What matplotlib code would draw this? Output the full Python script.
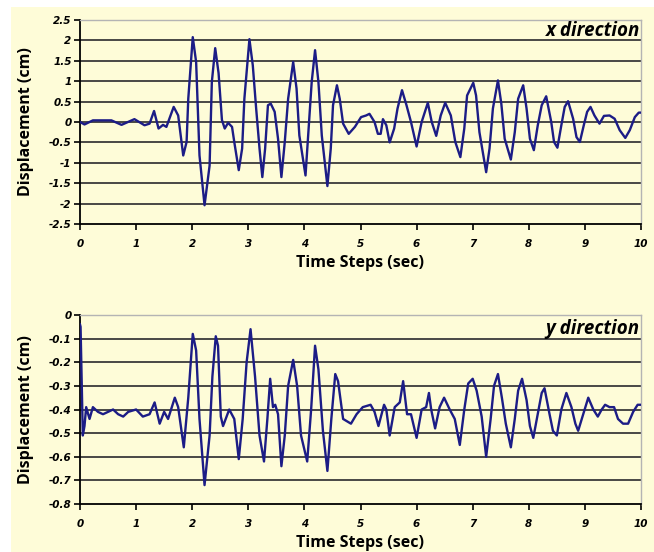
import matplotlib
matplotlib.use("Agg")
import matplotlib.pyplot as plt
from matplotlib.patches import Rectangle

# x direction record (time in sec, displacement in cm)
x_time = [0.00, 0.08, 0.23, 0.56, 0.74, 0.97, 1.15, 1.24, 1.32, 1.40, 1.48, 1.54,
          1.67, 1.75, 1.84, 1.90, 1.93, 2.01, 2.07, 2.13, 2.22, 2.31, 2.35, 2.41,
          2.47, 2.53, 2.58, 2.64, 2.71, 2.75, 2.83, 2.89, 2.93, 3.02, 3.08, 3.14,
          3.20, 3.25, 3.30, 3.35, 3.40, 3.47, 3.53, 3.59, 3.65, 3.71, 3.80, 3.86,
          3.91, 4.02, 4.09, 4.13, 4.19, 4.25, 4.31, 4.41, 4.47, 4.51, 4.58, 4.63,
          4.69, 4.79, 4.90, 5.01, 5.10, 5.16, 5.25, 5.31, 5.36, 5.40, 5.46, 5.52,
          5.60, 5.66, 5.74, 5.82, 5.90, 6.00, 6.09, 6.20, 6.27, 6.35, 6.43, 6.51,
          6.61, 6.69, 6.78, 6.85, 6.90, 7.01, 7.06, 7.12, 7.24, 7.30, 7.36, 7.45,
          7.51, 7.57, 7.68, 7.75, 7.81, 7.90, 7.96, 8.02, 8.09, 8.16, 8.23, 8.31,
          8.40, 8.45, 8.51, 8.58, 8.64, 8.70, 8.79, 8.85, 8.91, 8.98, 9.04, 9.10,
          9.17, 9.26, 9.34, 9.44, 9.53, 9.62, 9.72, 9.80, 9.89, 9.96, 10.0]
x_disp = [0.00, -0.06, 0.04, 0.04, -0.07, 0.07, -0.08, -0.04, 0.27, -0.16, -0.07, -0.12,
          0.37, 0.16, -0.82, -0.49, 0.57, 2.08, 1.47, -0.82, -2.04, -1.07, 0.98, 1.81,
          1.20, 0.05, -0.16, -0.02, -0.12, -0.49, -1.18, -0.65, 0.57, 2.03, 1.39, 0.33,
          -0.65, -1.35, -0.65, 0.41, 0.45, 0.25, -0.41, -1.35, -0.49, 0.57, 1.47, 0.82,
          -0.33, -1.31, 0.16, 0.98, 1.76, 0.98, -0.33, -1.57, -0.65, 0.41, 0.90, 0.57,
          -0.04, -0.29, -0.12, 0.12, 0.16, 0.20, 0.00, -0.29, -0.29, 0.07, -0.08, -0.50,
          -0.16, 0.33, 0.78, 0.41, 0.00, -0.60, 0.00, 0.47, 0.00, -0.34, 0.16, 0.47,
          0.16, -0.49, -0.86, -0.16, 0.65, 0.96, 0.65, -0.25, -1.23, -0.65, 0.33, 1.02,
          0.45, -0.41, -0.92, -0.25, 0.57, 0.90, 0.33, -0.41, -0.69, -0.08, 0.41, 0.63,
          0.00, -0.49, -0.63, -0.08, 0.37, 0.51, 0.08, -0.37, -0.49, -0.08, 0.25, 0.37,
          0.16, -0.04, 0.15, 0.16, 0.08, -0.20, -0.39, -0.20, 0.12, 0.23, 0.23]

# y direction record
y_time = [0.00, 0.01, 0.03, 0.05, 0.08, 0.11, 0.17, 0.23, 0.32, 0.41, 0.50, 0.59,
          0.68, 0.77, 0.86, 1.00, 1.12, 1.24, 1.33, 1.42, 1.50, 1.57, 1.69, 1.75,
          1.85, 1.93, 2.01, 2.07, 2.13, 2.22, 2.31, 2.36, 2.42, 2.46, 2.51, 2.55,
          2.66, 2.75, 2.83, 2.90, 2.97, 3.04, 3.12, 3.20, 3.28, 3.34, 3.39, 3.44,
          3.48, 3.53, 3.59, 3.65, 3.71, 3.80, 3.87, 3.94, 4.05, 4.12, 4.19, 4.25,
          4.33, 4.41, 4.48, 4.55, 4.60, 4.69, 4.83, 4.93, 5.04, 5.18, 5.25, 5.32,
          5.42, 5.46, 5.52, 5.61, 5.70, 5.76, 5.83, 5.90, 6.00, 6.09, 6.17, 6.22,
          6.26, 6.33, 6.41, 6.49, 6.59, 6.68, 6.77, 6.85, 6.92, 7.00, 7.07, 7.16,
          7.24, 7.32, 7.38, 7.45, 7.52, 7.59, 7.68, 7.75, 7.81, 7.88, 7.96, 8.02,
          8.08, 8.16, 8.23, 8.28, 8.37, 8.43, 8.50, 8.58, 8.67, 8.76, 8.83, 8.88,
          8.97, 9.06, 9.15, 9.23, 9.30, 9.36, 9.44, 9.52, 9.59, 9.68, 9.77, 9.86,
          9.94, 10.0]
y_disp = [-0.04, -0.05, -0.28, -0.51, -0.47, -0.39, -0.44, -0.39, -0.41, -0.42, -0.41, -0.40,
          -0.42, -0.43, -0.41, -0.40, -0.43, -0.42, -0.37, -0.46, -0.41, -0.44, -0.35, -0.39,
          -0.56, -0.35, -0.08, -0.15, -0.44, -0.72, -0.51, -0.26, -0.09, -0.13, -0.43, -0.47,
          -0.40, -0.44, -0.61, -0.44, -0.20, -0.06, -0.26, -0.51, -0.62, -0.44, -0.27, -0.39,
          -0.38, -0.42, -0.64, -0.51, -0.30, -0.19, -0.30, -0.51, -0.62, -0.40, -0.13, -0.23,
          -0.49, -0.66, -0.44, -0.25, -0.28, -0.44, -0.46, -0.42, -0.39, -0.38, -0.41, -0.47,
          -0.38, -0.40, -0.51, -0.39, -0.37, -0.28, -0.42, -0.42, -0.52, -0.40, -0.39, -0.33,
          -0.40, -0.48, -0.39, -0.35, -0.40, -0.44, -0.55, -0.40, -0.29, -0.27, -0.32, -0.43,
          -0.60, -0.44, -0.30, -0.25, -0.35, -0.46, -0.56, -0.44, -0.32, -0.27, -0.36, -0.47,
          -0.52, -0.42, -0.33, -0.31, -0.42, -0.49, -0.51, -0.40, -0.33, -0.39, -0.46, -0.49,
          -0.42, -0.35, -0.40, -0.43, -0.40, -0.38, -0.39, -0.39, -0.44, -0.46, -0.46, -0.41,
          -0.38, -0.38]

time_ticks = list(range(0, 11))
x_yticks = [-2.5, -2, -1.5, -1, -0.5, 0, 0.5, 1, 1.5, 2, 2.5]
y_yticks = [-0.8, -0.7, -0.6, -0.5, -0.4, -0.3, -0.2, -0.1, 0]

bg = '#fefcd8'
line_col = '#1c1c86'
W, H = 654, 552

fig = plt.figure(figsize=(W / 100, H / 100), dpi=100, facecolor='white')
fig.patches.append(Rectangle((11 / W, 0), 1 - 11 / W, 1 - 7 / H, transform=fig.transFigure,
                             facecolor=bg, edgecolor='none', zorder=-10))

def panel(rect, t, d, yticks, label, h_px, label_y):
    ax = fig.add_axes(rect)
    ax.set_facecolor(bg)
    ax.plot(t, d, color=line_col, lw=1.7, zorder=3)
    ax.set_xlim(0, 10)
    ax.set_ylim(yticks[0], yticks[-1])
    ax.set_xticks(time_ticks)
    ax.set_yticks(yticks)
    ax.set_xticklabels([str(v) for v in time_ticks])
    ax.set_yticklabels(['%g' % v for v in yticks])
    for y in yticks[1:-1]:
        ax.axhline(y, color='#3a3a3a', lw=1.3, zorder=1)
    for s in ['top', 'right']:
        ax.spines[s].set_color('#b4b4b4')
        ax.spines[s].set_linewidth(1.0)
    for s in ['left', 'bottom']:
        ax.spines[s].set_color('black')
        ax.spines[s].set_linewidth(1.3)
    ax.tick_params(direction='out', length=4, width=1.2, pad=2)
    ax.tick_params(axis='x', pad=7)
    for lab in ax.get_xticklabels() + ax.get_yticklabels():
        lab.set_fontfamily('DejaVu Sans')
        lab.set_fontweight('bold')
        lab.set_fontstyle('italic')
        lab.set_fontsize(7.5)
    ax.set_xlabel('Time Steps (sec)', fontfamily='Open Sans', fontweight='bold', fontsize=11.5)
    ax.set_ylabel('Displacement (cm)', fontfamily='Open Sans', fontweight='bold', fontsize=11.5)
    ax.xaxis.set_label_coords(0.5, -31 / h_px)
    ax.yaxis.set_label_coords(-46 / 561, 0.5)
    ax.text(0.998, label_y, label, transform=ax.transAxes, ha='right', va='center',
            fontfamily='Open Sans', fontweight='bold', fontstyle='italic', fontsize=13.5)
    return ax

panel([80 / W, 1 - 224 / H, 561 / W, 204 / H], x_time, x_disp, x_yticks, 'x direction', 204, 1 - 11 / 204)
panel([80 / W, 1 - 504 / H, 561 / W, 189 / H], y_time, y_disp, y_yticks, 'y direction', 189, 1 - 14 / 189)

fig.savefig('out.png', dpi=100, facecolor=fig.get_facecolor())
